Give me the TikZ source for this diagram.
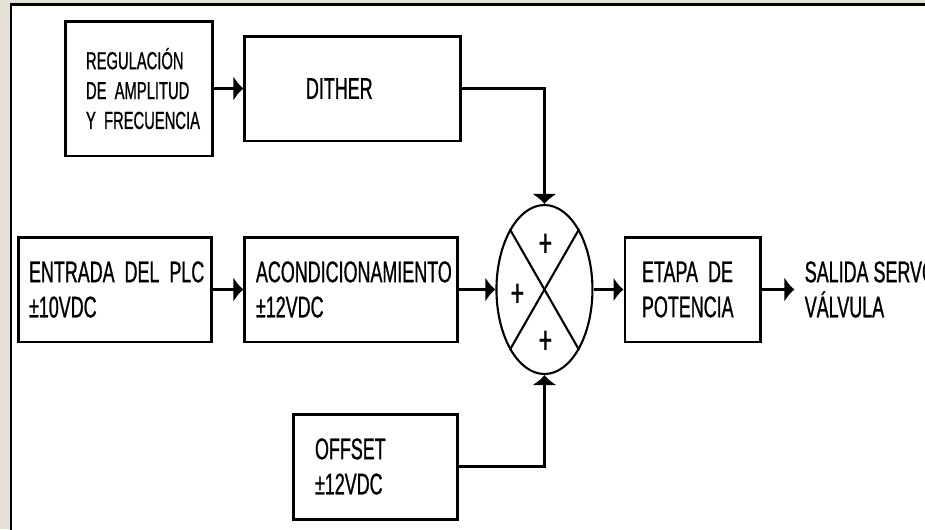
\documentclass[tikz,border=0pt]{standalone}
\usepackage{fontspec}
\setmainfont{Liberation Sans}[FakeStretch=0.6,FakeBold=0.8]
\usepackage{tikz}
\usetikzlibrary{shapes,arrows.meta,positioning,calc}
\definecolor{fondo}{RGB}{229,224,214}

\begin{document}
\begin{tikzpicture}[x=0.02cm,y=-0.02cm,
    bloque/.style={rectangle,draw,line width=1.7pt,align=left,
                   inner xsep=0pt,inner ysep=0pt,minimum height=2.1cm,
                   font=\fontsize{17}{20}\selectfont},
    sumador/.style={ellipse,draw,line width=1.2pt,inner sep=0pt,
                    minimum width=1.92cm,minimum height=3.38cm},
    signo/.style={inner sep=0pt,font=\fontsize{22}{22}\selectfont},
    linea/.style={draw,line width=1.7pt,-{Latex[length=0.2cm,width=0.5cm]}}]
    \useasboundingbox (0,0) rectangle (925,529);
    \fill[fondo] (0,0) rectangle (925,529);
    \draw[line width=1.4pt,fill=white] (11,4.5) rectangle (960,560);
    % fila superior
    \node[bloque,font=\fontsize{14}{17}\selectfont,minimum width=2.96cm,
          minimum height=2.7cm,text width=2.12cm](reg) at (139,88.5)
          {REGULACIÓN\\\mbox{DE AMPLITUD}\\\mbox{Y FRECUENCIA}};
    \node[bloque,right=0.58cm of reg,minimum width=4.32cm,text width=1.88cm](dither){DITHER};
    % fila central
    \node[bloque,minimum width=3.88cm,text width=3.44cm](entrada) at (115,289.5)
          {\mbox{ENTRADA DEL PLC}\\±10VDC};
    \node[bloque,right=0.6cm of entrada,minimum width=4.26cm,text width=3.82cm](acond)
          {ACONDICIONAMIENTO\\±12VDC};
    \node[sumador,right=0.72cm of acond](suma){};
    \node[bloque,right=0.6cm of suma,minimum width=2.72cm,text width=2.04cm](etapa)
          {\mbox{ETAPA DE}\\POTENCIA};
    \coordinate[right=0.64cm of etapa](punta);
    \node[align=left,inner sep=0pt,font=\fontsize{17}{20}\selectfont,
          right=0.2cm of punta](salida){SALIDA SERVO\\VÁLVULA};
    % fila inferior
    \node[bloque,minimum width=3.3cm,text width=2.42cm](offset) at (375.5,466.5)
          {OFFSET\\±12VDC};
    % sumador
    \draw[line width=1.2pt](suma.north west)--(suma.south east);
    \draw[line width=1.2pt](suma.north east)--(suma.south west);
    \node[signo](masarriba) at ($(suma.center)+(1,-44.5)$){+};
    \node[signo](masizq) at ($(suma.center)+(-27,5.5)$){+};
    \node[signo](masabajo) at ($(suma.center)+(1,52.5)$){+};
    % conexiones
    \draw[linea](reg)--(dither);
    \draw[linea](dither.east)-|(suma.north);
    \draw[linea](entrada)--(acond);
    \draw[linea](acond)--(suma);
    \draw[linea](suma)--(etapa);
    \draw[linea](etapa)--(punta);
    \draw[linea](offset.east)-|(suma.south);
\end{tikzpicture}
\end{document}
